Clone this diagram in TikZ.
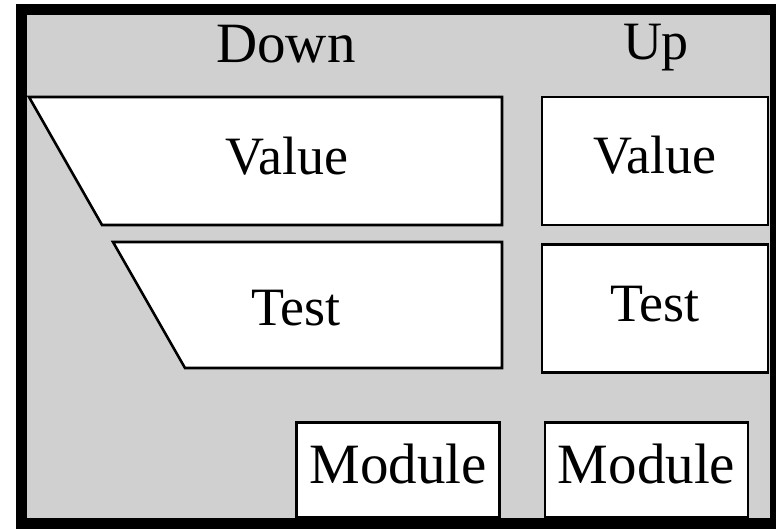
\documentclass[tikz,border=0pt]{standalone}
\usepackage{fontspec}
\setmainfont{Liberation Serif}
\usetikzlibrary{positioning}
\definecolor{PanelGray}{HTML}{D0D0D0}

\begin{document}
\begin{tikzpicture}[
  x=1pt, y=-1pt,
  font=\fontsize{54}{60}\selectfont,
  panel/.style={draw=black, line width=2.6pt, fill=white},
  cell/.style={panel, inner sep=0pt, minimum width=226pt, minimum height=128pt,
    text height=36pt, text depth=10pt},
  modbox/.style={cell, minimum width=203pt, minimum height=95pt,
    font=\fontsize{57}{62}\selectfont},
  tag/.style={anchor=base, inner sep=0pt}
]
\useasboundingbox (0,0) rectangle (776,529);
% frame and grey ground
\fill[black] (16,4) rectangle (776,529);
\fill[PanelGray] (27,15) rectangle (770,518);

% column heads
\node[tag, font=\fontsize{57}{62}\selectfont] (downhead) at (286,63) {Down};
\node[tag] (uphead) at (656,60) {Up};

% slanted panels on the down side
\draw[panel] (29,97) -- (502,97) -- (502,225) -- (102,225) -- cycle;
\node[tag] (downval) at (287,175) {Value};
\draw[panel] (113,242) -- (502,242) -- (502,368) -- (185,368) -- cycle;
\node[tag] (downtest) at (296,325) {Test};

% plain boxes on the up side
\node[cell] (upval) at (655,161) {Value};
\node[cell, below=17pt of upval] (uptest) {Test};

% modules along the bottom
\node[modbox] (downmod) at (398,470) {Module};
\node[modbox, right=43pt of downmod] (upmod) {Module};
\end{tikzpicture}
\end{document}
